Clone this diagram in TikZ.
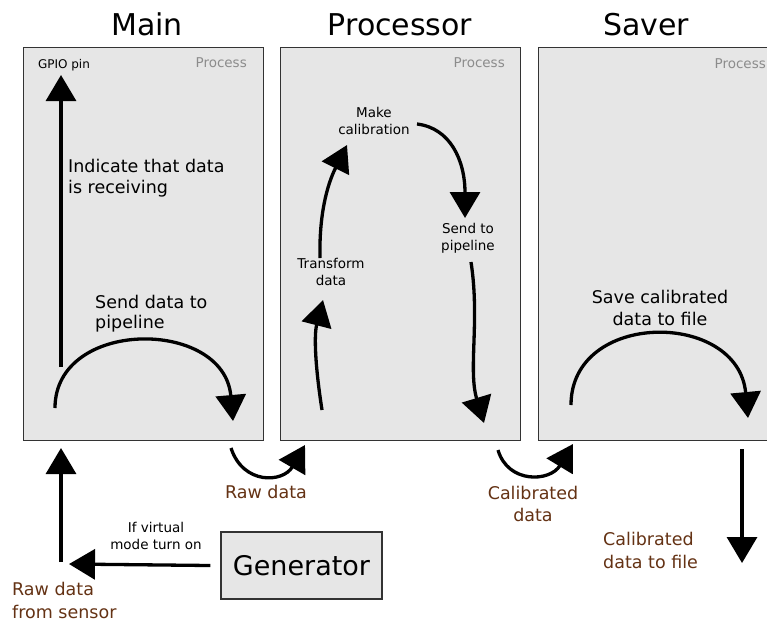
\documentclass[tikz,border=0pt]{standalone}
\usepackage{fontspec}
\setmainfont{DejaVu Sans}
\usetikzlibrary{arrows.meta}
\definecolor{boxfill}{HTML}{E6E6E6}
\definecolor{boxline}{HTML}{333333}
\definecolor{proclabel}{HTML}{8C8C8C}
\definecolor{flowlabel}{RGB}{100,50,20}
\begin{document}
\begin{tikzpicture}[x=1pt,y=-1pt,
  proc/.style={draw=boxline,fill=boxfill,line width=1.3pt,anchor=north west,inner sep=0pt},
  flow/.style={line width=3.3pt,-{Triangle[width=30pt,length=26pt]}},
  title/.style={font=\fontsize{30}{36}\selectfont,anchor=base,inner sep=0pt},
  proctag/.style={font=\fontsize{13.5}{16}\selectfont,text=proclabel,anchor=base east,inner sep=0pt},
  bigtxt/.style={font=\fontsize{17.5}{21}\selectfont,inner sep=0pt,align=left,anchor=base west},
  smalltxt/.style={font=\fontsize{13.5}{17}\selectfont,inner sep=0pt,align=center,anchor=base},
  datatxt/.style={font=\fontsize{17.5}{23}\selectfont,inner sep=0pt,text=flowlabel}]
\useasboundingbox (0,0) rectangle (767,625);

% process panels
\node[proc,minimum width=240pt,minimum height=393pt] (main) at (23,47) {};
\node[proc,minimum width=240pt,minimum height=393pt] (processor) at (280,47) {};
\node[proc,minimum width=250pt,minimum height=393pt] (saver) at (538,47) {};

% panel titles
\node[title] (tmain) at (147,35) {Main};
\node[title] (tproc) at (400,35) {Processor};
\node[title] (tsaver) at (646,35) {Saver};

% "Process" tags
\node[proctag] (pmain) at (247,67) {Process};
\node[proctag] (pproc) at (505,67) {Process};
\node[proctag] (psaver) at (766,68) {Process};

% Main panel (multi-line labels are placed by their last baseline)
\node[font=\fontsize{12}{14}\selectfont,anchor=base,inner sep=0pt] (gpio) at (64,68) {GPIO pin};
\node[bigtxt] (indicate) at (68,193) {Indicate that data\\is receiving};
\node[bigtxt,font=\fontsize{17.5}{20}\selectfont] (senddata) at (95,328) {Send data to\\pipeline};
\coordinate (up0) at (61,367);
\coordinate (up1) at (61,75);
\draw[flow] (up0) -- (up1);
\coordinate (ma0) at (55,408);
\coordinate (ma1) at (233,421);
\draw[flow] (ma0) .. controls (55,318) and (224,318) .. (ma1);

% Processor panel
\node[smalltxt] (makecal) at (374,134) {Make\\calibration};
\node[smalltxt] (sendpipe) at (468,250) {Send to\\pipeline};
\node[smalltxt] (transform) at (331,285) {Transform\\data};
\coordinate (pa0) at (322,410);
\coordinate (pa1) at (323,300);
\draw[flow] (pa0) .. controls (315,365) and (314,335) .. (pa1);
\coordinate (pb0) at (320,258);
\coordinate (pb1) at (347,145);
\draw[flow] (pb0) .. controls (319,215) and (327,185) .. (pb1);
\coordinate (pc0) at (417,124);
\coordinate (pc1) at (465,218);
\draw[flow] (pc0) .. controls (450,128) and (465,160) .. (pc1);
\coordinate (pd0) at (471,262);
\coordinate (pd1) at (484,423);
\draw[flow] (pd0) .. controls (480,320) and (468,370) .. (pd1);

% Saver panel
\node[bigtxt,align=center,anchor=base,font=\fontsize{17.5}{22}\selectfont] (savecal) at (660,325) {Save calibrated\\data to file};
\coordinate (sa0) at (571,405);
\coordinate (sa1) at (748,418);
\draw[flow] (sa0) .. controls (571,310) and (738,310) .. (sa1);

% hand-overs between panels
\coordinate (rw0) at (231,448);
\coordinate (rw1) at (305,445);
\draw[flow] (rw0) .. controls (243,485) and (283,483) .. (rw1);
\node[datatxt,anchor=base] (rawdata) at (266,498) {Raw data};
\coordinate (cd0) at (498,450);
\coordinate (cd1) at (573,444);
\draw[flow] (cd0) .. controls (508,484) and (550,482) .. (cd1);
\node[datatxt,align=center,anchor=base,font=\fontsize{17.5}{22}\selectfont] (caldata) at (533,521) {Calibrated\\data};

% output to file
\coordinate (of0) at (742,449);
\coordinate (of1) at (742,563);
\draw[flow] (of0) -- (of1);
\node[datatxt,align=left,anchor=base west] (calfile) at (603,568) {Calibrated\\data to file};

% input from sensor / generator
\coordinate (in0) at (61,562);
\coordinate (in1) at (61,448);
\draw[flow] (in0) -- (in1);
\node[datatxt,align=left,anchor=base west] (rawsensor) at (12,618) {Raw data\\from sensor};
\node[draw=boxline,fill=boxfill,line width=1.3pt,minimum width=161pt,minimum height=67pt,inner sep=0pt,
      font=\fontsize{27}{32}\selectfont] (gen) at (301.5,565.5) {Generator};
\coordinate (gv1) at (69,564);
\draw[flow] ([xshift=-10pt]gen.west) -- (gv1);
\node[smalltxt,font=\fontsize{13.5}{16.5}\selectfont] (virtual) at (156,549) {If virtual\\mode turn on};
\end{tikzpicture}
\end{document}
